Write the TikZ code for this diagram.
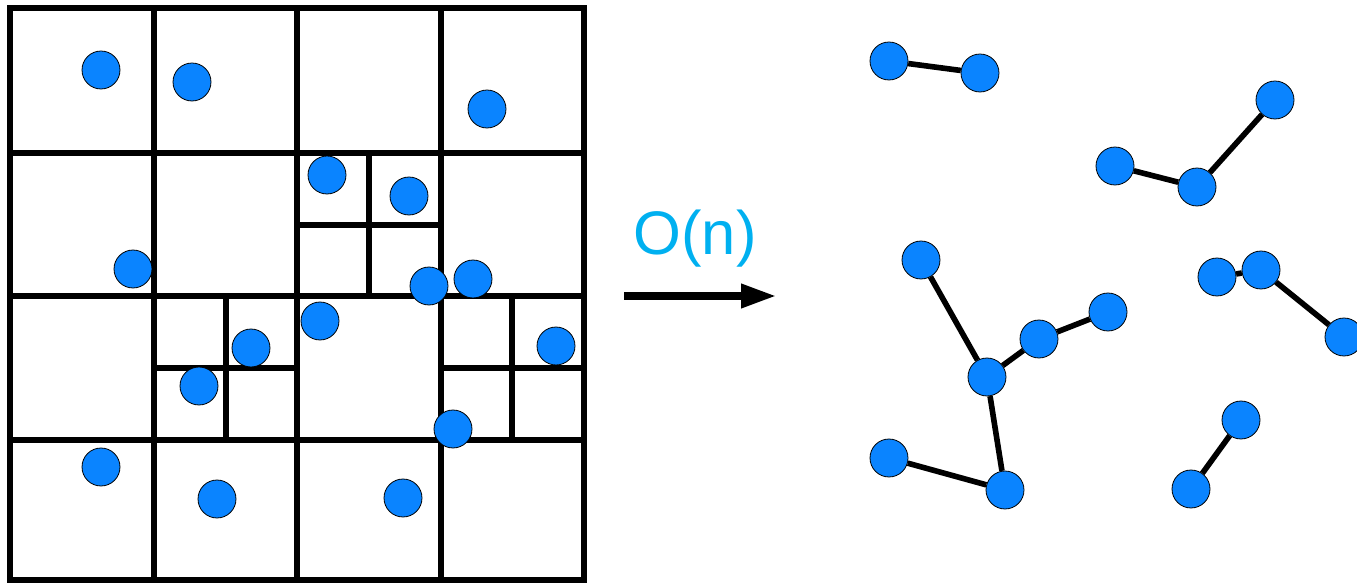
\documentclass[tikz,border=0pt]{standalone}
\usepackage{fontspec}
\usepackage{xcolor}
\usepackage{tikz}
\usetikzlibrary{arrows.meta}
\newfontfamily\costfont{Liberation Sans}
\definecolor{ptblue}{HTML}{0A84FF}
\definecolor{costcyan}{HTML}{00B0F0}
\tikzset{
  fgrid/.style ={line width=3pt, black, line cap=rect},
  fpt/.style   ={circle, fill=ptblue, draw=black, line width=0.45pt,
                 minimum size=0.76cm, inner sep=0pt},
  fedge/.style ={line width=3.2pt, black},
  farr/.style  ={-{Triangle[length=0.7cm, width=0.46cm]}, line width=4pt, black},
  fcost/.style ={text=costcyan, font=\costfont\fontsize{35}{40}\selectfont,
                 anchor=base, inner sep=0pt},
}
\begin{document}
\begin{tikzpicture}[x=0.02cm, y=-0.02cm]
\useasboundingbox (0,0) rectangle (1357,584);

\draw[fgrid] (10,8) rectangle (584,580);
\foreach \gx in {154,297,441} \draw[fgrid] (\gx,8) -- (\gx,580);
\foreach \gy in {153,296,440} \draw[fgrid] (10,\gy) -- (584,\gy);
\draw[fgrid] (369,153) -- (369,296) (297,225) -- (441,225);
\draw[fgrid] (226,296) -- (226,440) (154,368) -- (297,368);
\draw[fgrid] (512,296) -- (512,440) (441,368) -- (584,368);

\foreach \px/\py [count=\i] in {101/70, 192/82, 487/109, 327/175, 409/196,
    133/269, 429/286, 473/279, 320/321, 251/348, 556/346, 199/386,
    453/429, 101/467, 217/499, 403/498}
{
  \node[fpt] (l\i) at (\px,\py) {};
  \node[fpt] (r\i) at (\px+788,\py-9) {};
}

\coordinate (from) at (624,296);
\coordinate (to) at (776,296);
\draw[farr] (from) -- (to);
\node[fcost] (cost) at (695,255) {O(n)};

\draw[fedge] (r1) -- (r2);
\draw[fedge] (r4) -- (r5);
\draw[fedge] (r5) -- (r3);
\draw[fedge] (r6) -- (r12);
\draw[fedge] (r12) -- (r10);
\draw[fedge] (r10) -- (r9);
\draw[fedge] (r12) -- (r15);
\draw[fedge] (r14) -- (r15);
\draw[fedge] (r7) -- (r8);
\draw[fedge] (r8) -- (r11);
\draw[fedge] (r13) -- (r16);
\end{tikzpicture}
\end{document}
